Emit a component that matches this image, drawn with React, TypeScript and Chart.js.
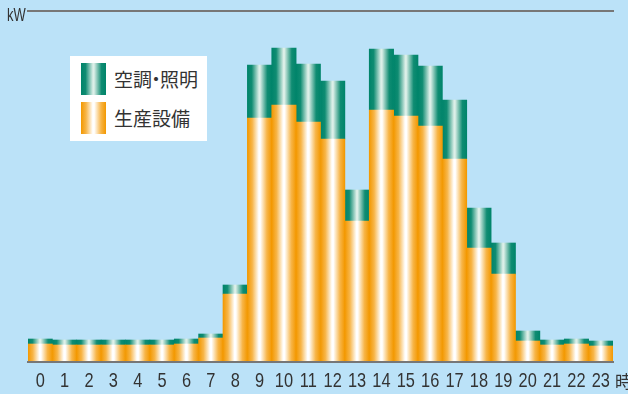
import React, { useEffect, useRef } from "react";
import { Chart, registerables } from "chart.js";

Chart.register(...registerables);

// hours of the day (x categories)
const hours = [
  "0", "1", "2", "3", "4", "5", "6", "7", "8", "9", "10", "11",
  "12", "13", "14", "15", "16", "17", "18", "19", "20", "21", "22", "23",
];

// series names
const seriesNames = ["空調・照明", "生産設備"];

// production equipment load (kW, relative units)
const production = [
  18, 17, 17, 17, 17, 17, 18, 24, 68, 244, 257, 240,
  223, 141, 252, 246, 236, 203, 114, 88, 21, 17, 18, 16,
];

// air-conditioning & lighting load, stacked on top
const hvacLighting = [
  5, 5, 5, 5, 5, 5, 5, 4, 9, 53, 57, 58,
  58, 31, 61, 61, 60, 59, 40, 31, 10, 5, 5, 5,
];

const yMax = 351;

const ORANGE_STOPS: [number, string][] = [
  [0, "#f39800"],
  [0.2, "#f7b548"],
  [0.47, "#ffffff"],
  [0.53, "#ffffff"],
  [0.8, "#f7b548"],
  [1, "#f39800"],
];
const GREEN_STOPS: [number, string][] = [
  [0, "#00846a"],
  [0.18, "#0f8c72"],
  [0.48, "#dcefe8"],
  [0.52, "#dcefe8"],
  [0.82, "#0f8c72"],
  [1, "#00846a"],
];

const makeFill = (stops: [number, string][]) => (c: any) => {
  const chart = c.chart;
  const xs = chart.scales && chart.scales.x;
  const area = chart.chartArea;
  if (!area || !xs || c.dataIndex === undefined) return stops[0][1];
  const cx = xs.getPixelForValue(c.dataIndex);
  const w = (area.right - area.left) / hours.length;
  const g = chart.ctx.createLinearGradient(cx - w / 2, 0, cx + w / 2, 0);
  stops.forEach(([o, col]) => g.addColorStop(o, col));
  return g;
};

const cssGrad = (stops: [number, string][]) =>
  `linear-gradient(to right, ${stops.map(([o, c]) => `${c} ${o * 100}%`).join(", ")})`;

const TICK_FONT = "'Liberation Sans', Arial, sans-serif";
const CJK_FONT = "'Noto Sans CJK JP', 'Noto Sans', sans-serif";
const NARROW = 0.78;

export default function App() {
  const canvasRef = useRef<HTMLCanvasElement | null>(null);

  useEffect(() => {
    document.body.style.margin = "0";
    const canvas = canvasRef.current;
    if (!canvas) return;
    const chart = new Chart(canvas, {
      type: "bar",
      data: {
        labels: hours,
        datasets: [
          {
            label: seriesNames[1],
            data: production,
            backgroundColor: makeFill(ORANGE_STOPS),
            borderWidth: 0,
            categoryPercentage: 1,
            barPercentage: 1,
            xAxisID: "x",
            yAxisID: "y",
          },
          {
            label: seriesNames[0],
            data: hvacLighting,
            backgroundColor: makeFill(GREEN_STOPS),
            borderWidth: 0,
            categoryPercentage: 1,
            barPercentage: 1,
            xAxisID: "x",
            yAxisID: "y",
          },
        ],
      },
      options: {
        responsive: false,
        animation: false,
        layout: { padding: { left: 28, right: 15, top: 0, bottom: 0 } },
        plugins: {
          legend: { display: false },
          tooltip: { enabled: false },
        },
        scales: {
          x: {
            type: "category",
            position: "bottom",
            stacked: true,
            grid: { display: false, drawTicks: false },
            border: { display: true, color: "#777777", width: 2, z: 1 },
            ticks: {
              color: "#333333",
              autoSkip: false,
              maxRotation: 0,
              padding: 7,
              font: { family: TICK_FONT, size: 21 },
            },
            afterFit: (s: any) => {
              s.height = 32;
            },
            afterUpdate: (s: any) => {
              if (s.__narrowed) return;
              s.__narrowed = true;
              const orig = s.getLabelItems.bind(s);
              s.getLabelItems = (area: any) => {
                const items = orig(area);
                const c = s.ctx;
                items.forEach((it: any) => {
                  c.save();
                  c.font = it.font.string;
                  const w = c.measureText(String(it.label)).width;
                  c.restore();
                  it.options.maxWidth = w * NARROW;
                });
                return items;
              };
            },
          },
          xTop: {
            type: "category",
            axis: "x",
            position: "top",
            grid: { display: false, drawTicks: false },
            border: { display: true, color: "#777777", width: 2 },
            ticks: { display: false },
            afterFit: (s: any) => {
              s.height = 11;
            },
          },
          y: {
            display: false,
            stacked: true,
            min: 0,
            max: yMax,
          },
        },
      },
    });
    return () => chart.destroy();
  }, []);

  return (
    <div
      style={{
        position: "absolute",
        left: 0,
        top: 0,
        width: 628,
        height: 394,
        background: "#bbe2f8",
        overflow: "hidden",
      }}
    >
      <canvas ref={canvasRef} width={628} height={394} style={{ position: "absolute", left: 0, top: 0 }} />
      <span
        style={{
          position: "absolute",
          left: 7,
          top: 4,
          fontFamily: TICK_FONT,
          fontSize: 18,
          lineHeight: "22px",
          color: "#333",
          transform: "scaleX(0.72)",
          transformOrigin: "left top",
        }}
      >
        kW
      </span>
      <span
        style={{
          position: "absolute",
          left: 615,
          top: 369,
          fontFamily: CJK_FONT,
          fontSize: 17,
          lineHeight: "24px",
          color: "#333",
          whiteSpace: "nowrap",
        }}
      >
        時
      </span>
      <div
        style={{
          position: "absolute",
          left: 70,
          top: 56,
          width: 137,
          height: 85,
          background: "#ffffff",
        }}
      >
        {[
          { name: seriesNames[0], stops: GREEN_STOPS, top: 7 },
          { name: seriesNames[1], stops: ORANGE_STOPS, top: 46 },
        ].map((it) => (
          <div key={it.name}>
            <div
              style={{
                position: "absolute",
                left: 11,
                top: it.top,
                width: 25,
                height: 32,
                background: cssGrad(it.stops),
              }}
            />
            <span
              style={{
                position: "absolute",
                left: 44,
                top: it.top + 3,
                fontFamily: CJK_FONT,
                fontSize: 19,
                lineHeight: "26px",
                color: "#333",
                whiteSpace: "nowrap",
              }}
            >
              {it.name.split("・").map((part, i, arr) => (
                <React.Fragment key={i}>
                  {part}
                  {i < arr.length - 1 ? <span style={{ margin: "0 -5.5px" }}>・</span> : null}
                </React.Fragment>
              ))}
            </span>
          </div>
        ))}
      </div>
    </div>
  );
}
